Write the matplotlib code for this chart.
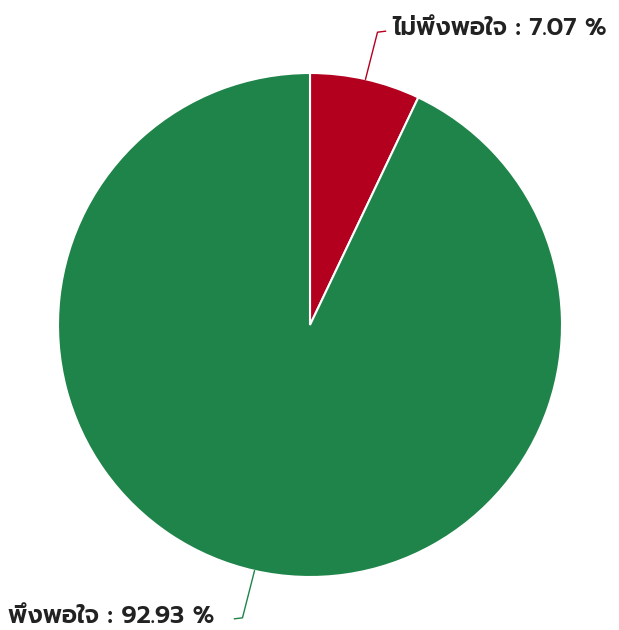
import numpy as np
import matplotlib
matplotlib.use("Agg")
import matplotlib.pyplot as plt

labels = ['ไม่พึงพอใจ', 'พึงพอใจ']
values = [7.07, 92.93]
colors = ['#b3001f', '#1e8449']

fam = ['Prompt', 'Kanit', 'DejaVu Sans']

fig = plt.figure(figsize=(6.19, 6.30), dpi=100)
ax = fig.add_axes([0, 0, 1, 1])

cx, cy, r = 310, 305, 252
wedges, _ = ax.pie(values, colors=colors, startangle=90, counterclock=False,
                   center=(cx, cy), radius=r,
                   wedgeprops=dict(edgecolor='white', linewidth=1.5))
ax.set_xlim(0, 619)
ax.set_ylim(0, 630)
ax.set_aspect('auto')
ax.axis('off')

# labels with leader lines
for i, w in enumerate(wedges):
    ang = np.deg2rad((w.theta1 + w.theta2) / 2)
    x0, y0 = cx + r * np.cos(ang), cy + r * np.sin(ang)
    if np.sin(ang) > 0:
        x1, y1 = x0 + 12, y0 + 47
        x2 = x1 + 8
        ax.plot([x0, x1, x2], [y0, y1, y1 + 1], color=colors[i], lw=1)
        ax.text(x2 + 7, y1 + 4, f'{labels[i]} : {values[i]:.2f} %', ha='left', va='center',
                fontsize=17.5, fontweight='semibold', color='#222222', family=fam)
    else:
        x1, y1 = x0 - 12, y0 - 47
        x2 = x1 - 8
        ax.plot([x0, x1, x2], [y0, y1, y1 - 1], color=colors[i], lw=1)
        ax.text(x2 - 20, y1 + 1, f'{labels[i]} : {values[i]:.2f} %', ha='right', va='center',
                fontsize=17.5, fontweight='semibold', color='#222222', family=fam)

fig.savefig('out.png', dpi=100)
